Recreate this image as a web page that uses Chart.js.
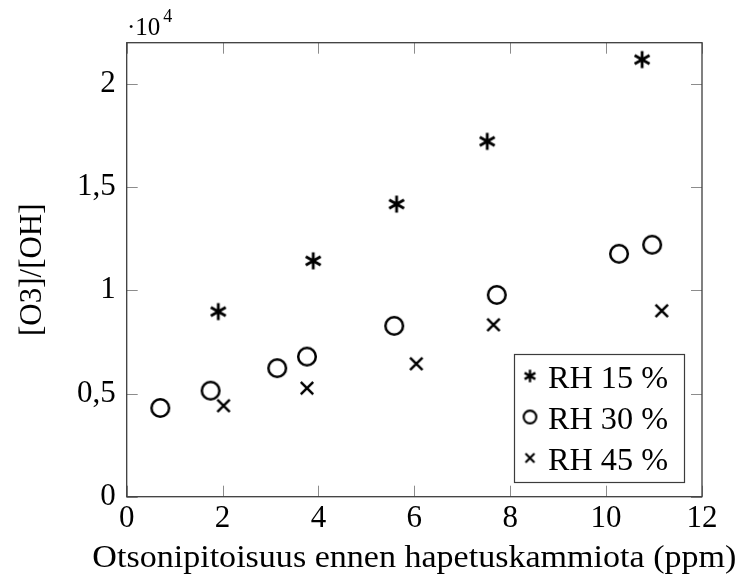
<!DOCTYPE html>
<html>
<head>
<meta charset="utf-8">
<script src="https://cdn.jsdelivr.net/npm/chart.js@4.4.0/dist/chart.umd.min.js"></script>
<style>
html, body { margin: 0; padding: 0; background: #fff; }
</style>
</head>
<body>
<canvas id="scatter" width="738" height="581"></canvas>
<script>
// values
const rh15X = [1.91, 3.89, 5.63, 7.52, 10.75];
const rh15Y = [8970, 11430, 14180, 17220, 21180];
const rh30X = [0.70, 1.75, 3.14, 3.76, 5.58, 7.72, 10.27, 10.96];
const rh30Y = [4300, 5140, 6230, 6790, 8280, 9780, 11770, 12210];
const rh45X = [2.02, 3.76, 6.04, 7.65, 11.16];
const rh45Y = [4410, 5260, 6440, 8330, 9010];
const seriesLabels = ["RH 15 %", "RH 30 %", "RH 45 %"];
const xTicks = [0, 2, 4, 6, 8, 10, 12];
const yTicks = [0, 5000, 10000, 15000, 20000];
const yTickLabels = ["0", "0,5", "1", "1,5", "2"];
const xTitle = "Otsonipitoisuus ennen hapetuskammiota (ppm)";
const yTitle = "[O3]/[OH]";

const serif = "'Liberation Serif', 'DejaVu Serif', serif";

function makeMarker(kind, s) {
    let size = Math.ceil(26 * s);
    let c = document.createElement("canvas");
    c.width = size;
    c.height = size;
    let g = c.getContext("2d");
    let m = size / 2;
    g.strokeStyle = "#000";
    g.lineWidth = (kind == "star" ? 2.8 : 2.5) * Math.max(s, 0.85);
    g.lineCap = "butt";
    g.beginPath();
    if (kind == "star") {
        let r = 8.6 * s;
        for (let i = 0; i < 3; i++) {
            let a = Math.PI / 2 + i * Math.PI / 3;
            g.moveTo(m + r * Math.cos(a), m + r * Math.sin(a));
            g.lineTo(m - r * Math.cos(a), m - r * Math.sin(a));
        }
    } else if (kind == "circle") {
        g.arc(m, m, 8.8 * s, 0, Math.PI * 2);
    } else {
        let r = 6.2 * s;
        g.moveTo(m - r, m - r); g.lineTo(m + r, m + r);
        g.moveTo(m - r, m + r); g.lineTo(m + r, m - r);
    }
    g.stroke();
    return c;
}

const kinds = ["star", "circle", "cross"];
const plotMarks = kinds.map(k => makeMarker(k, 1));
const legendMarks = kinds.map(k => makeMarker(k, 0.72));

function pts(xs, ys) {
    return xs.map((x, i) => ({x: x, y: ys[i]}));
}

const framePlugin = {
    id: "frame",
    afterDraw(chart) {
        let ctx = chart.ctx;
        let a = chart.chartArea;
        let xs = chart.scales.x, ys = chart.scales.y;
        ctx.save();
        // inward ticks on all four sides
        ctx.strokeStyle = "#8c8c8c";
        ctx.lineWidth = 1;
        ctx.beginPath();
        xTicks.forEach(v => {
            let px = Math.round(xs.getPixelForValue(v)) + 0.5;
            ctx.moveTo(px, a.bottom); ctx.lineTo(px, a.bottom - 11);
            ctx.moveTo(px, a.top); ctx.lineTo(px, a.top + 11);
        });
        yTicks.forEach(v => {
            let py = Math.round(ys.getPixelForValue(v)) + 0.5;
            ctx.moveTo(a.left, py); ctx.lineTo(a.left + 11, py);
            ctx.moveTo(a.right, py); ctx.lineTo(a.right - 11, py);
        });
        ctx.stroke();
        // axis box
        ctx.strokeStyle = "#3c3c3c";
        ctx.lineWidth = 1.3;
        ctx.strokeRect(a.left, a.top, a.right - a.left, a.bottom - a.top);

        ctx.fillStyle = "#000";
        ctx.textBaseline = "alphabetic";
        ctx.textAlign = "left";

        // x axis title, stretched a little to the width of the original
        ctx.font = "32px " + serif;
        let tw = ctx.measureText(xTitle).width;
        ctx.save();
        ctx.translate((a.left + a.right) / 2, 567);
        ctx.scale(644 / tw, 1);
        ctx.textAlign = "center";
        ctx.fillText(xTitle, 0, 0);
        ctx.restore();

        // scale factor above y axis
        ctx.font = "25px " + serif;
        ctx.fillText("\u00b710", 127, 35);
        let w = ctx.measureText("\u00b710").width;
        ctx.font = "18px " + serif;
        ctx.fillText("4", 127 + w + 3, 22);

        // legend box
        let lx = 514.5, ly = 354.5, lw = 170, lh = 128;
        ctx.fillStyle = "#fff";
        ctx.fillRect(lx, ly, lw, lh);
        ctx.strokeStyle = "#3c3c3c";
        ctx.lineWidth = 1.2;
        ctx.strokeRect(lx, ly, lw, lh);
        ctx.fillStyle = "#000";
        ctx.font = "31px " + serif;
        seriesLabels.forEach((t, i) => {
            let cy = 376 + i * 41;
            let img = legendMarks[i];
            ctx.drawImage(img, 530 - img.width / 2, cy - img.height / 2);
            ctx.save();
            ctx.translate(548, 388 + i * 41);
            ctx.scale(120 / ctx.measureText(t).width, 1);
            ctx.fillText(t, 0, 0);
            ctx.restore();
        });
        ctx.restore();
    }
};

function build() {
    const ctx = document.getElementById("scatter").getContext("2d");
    new Chart(ctx, {
        type: "scatter",
        data: {
            datasets: [
                {label: seriesLabels[0], data: pts(rh15X, rh15Y), pointStyle: plotMarks[0]},
                {label: seriesLabels[1], data: pts(rh30X, rh30Y), pointStyle: plotMarks[1]},
                {label: seriesLabels[2], data: pts(rh45X, rh45Y), pointStyle: plotMarks[2]}
            ]
        },
        options: {
            responsive: false,
            animation: false,
            layout: {padding: {top: 42.7, right: 36, left: 0, bottom: 0}},
            plugins: {
                legend: {display: false},
                tooltip: {enabled: false}
            },
            scales: {
                x: {
                    type: "linear",
                    min: 0,
                    max: 12,
                    afterBuildTicks: s => { s.ticks = xTicks.map(v => ({value: v})); },
                    afterFit: s => { s.height = 84.3; },
                    grid: {display: false, drawTicks: false},
                    border: {display: false},
                    ticks: {color: "#000", padding: 3.5, font: {family: serif, size: 31}}
                },
                y: {
                    type: "linear",
                    min: 0,
                    max: 22000,
                    afterBuildTicks: s => { s.ticks = yTicks.map(v => ({value: v})); },
                    afterFit: s => { s.width = 126.7; },
                    grid: {display: false, drawTicks: false},
                    border: {display: false},
                    ticks: {color: "#000", padding: 11,
                            font: {family: serif, size: 31},
                            callback: v => yTickLabels[yTicks.indexOf(v)]},
                    title: {display: true, text: yTitle, color: "#000",
                            font: {family: serif, size: 31}, padding: {top: 14, bottom: 0}}
                }
            }
        },
        plugins: [framePlugin]
    });
}

document.fonts.load("31px 'Liberation Serif'").then(build, build);
</script>
</body>
</html>
